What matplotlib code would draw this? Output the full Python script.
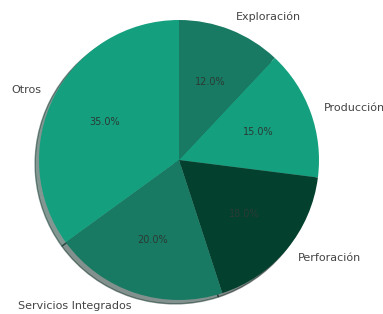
import matplotlib
matplotlib.use("Agg")
import matplotlib.pyplot as plt

labels = ["Exploración", "Producción", "Perforación", "Servicios Integrados", "Otros"]
values = [12, 15, 18, 20, 35]
colors = ["#187a62", "#14a07f", "#03402e", "#187a62", "#14a07f"]

fig = plt.figure(figsize=(3.83, 3.14), dpi=100)
# pie centre ~ (179, 160) px, radius ~140 px
W, H = 383, 314
r = 140
cx, cy = 179, 314 - 160
side = 2.5 * r
ax = fig.add_axes([(cx - side / 2) / W, (cy - side / 2) / H, side / W, side / H])

wedges, texts, autotexts = ax.pie(values, labels=labels, colors=colors,
                                  autopct="%1.1f%%", startangle=90,
                                  counterclock=False, shadow=True,
                                  textprops={"fontsize": 8, "color": "#444444"})
for t in autotexts:
    t.set_fontsize(7)
    t.set_color("#2b3a35")
ax.set_xlim(-1.25, 1.25)
ax.set_ylim(-1.25, 1.25)
ax.set_aspect("equal")

fig.savefig("out.png", dpi=100)
